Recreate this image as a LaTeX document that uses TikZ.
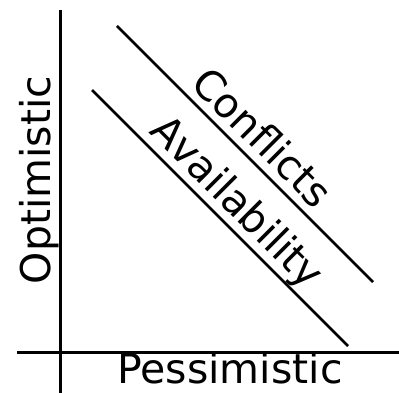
\documentclass[tikz,border=0pt]{standalone}
\usepackage{fontspec}
\setmainfont{DejaVu Sans}
\begin{document}
\begin{tikzpicture}[x=1pt,y=-1pt,line cap=butt,
	axis/.style={line width=3pt},
	bound/.style={line width=2.5pt},
	lbl/.style={font=\fontsize{41}{41}\selectfont,inner sep=0pt}]
	\useasboundingbox (0,0) rectangle (399,393);
	% axes
	\coordinate (ytop) at (60,10);
	\coordinate (ybot) at (60,393);
	\coordinate (xleft) at (17,352);
	\coordinate (xright) at (399,352);
	\draw[axis] (ytop) -- (ybot);
	\draw[axis] (xleft) -- (xright);
	% the two trade-off lines
	\coordinate (c1) at (117,26);
	\coordinate (c2) at (373,282);
	\coordinate (a1) at (92,90);
	\coordinate (a2) at (348,346);
	\draw[bound] (c1) -- (c2);
	\draw[bound] (a1) -- (a2);
	\node[lbl,anchor=base] (pess) at (230,383) {Pessimistic};
	\node[lbl,anchor=base,rotate=90] (opt) at (50,180) {Optimistic};
	\node[lbl,rotate=-45] (conf) at (263,137) {Conflicts};
	\node[lbl,rotate=-45] (avail) at (236,204) {Availability};
\end{tikzpicture}
\end{document}
